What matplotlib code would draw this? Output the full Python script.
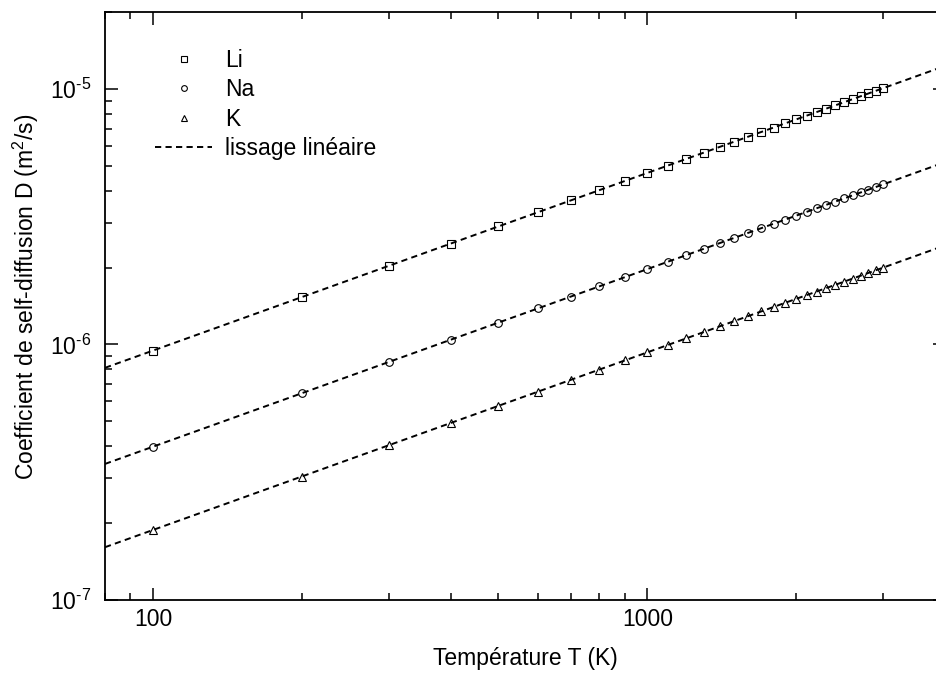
"""Self-diffusion coefficient of Li, Na and K versus temperature (log-log)."""

import numpy as np
import matplotlib

matplotlib.use("Agg")
import matplotlib.pyplot as plt
from matplotlib.ticker import (LogLocator, NullFormatter, FixedLocator,
                               FixedFormatter, FuncFormatter)

plt.rcParams["font.family"] = ["Liberation Sans", "DejaVu Sans"]
plt.rcParams["mathtext.fontset"] = "custom"
plt.rcParams["mathtext.rm"] = "Liberation Sans"
plt.rcParams["mathtext.it"] = "Liberation Sans:italic"

# Temperature (K): 100 to 3000 K in steps of 100
temperature = [100, 200, 300, 400, 500, 600, 700, 800, 900, 1000,
               1100, 1200, 1300, 1400, 1500, 1600, 1700, 1800, 1900, 2000,
               2100, 2200, 2300, 2400, 2500, 2600, 2700, 2800, 2900, 3000]

# D in units of 1e-6 m^2/s
d_li = [0.947, 1.53, 2.03, 2.48, 2.90, 3.29, 3.66, 4.02, 4.36, 4.69,
        5.01, 5.33, 5.63, 5.93, 6.22, 6.51, 6.78, 7.06, 7.33, 7.60,
        7.86, 8.12, 8.37, 8.62, 8.87, 9.12, 9.36, 9.60, 9.83, 10.07]
d_na = [0.398, 0.644, 0.854, 1.043, 1.218, 1.383, 1.539, 1.689, 1.833, 1.972,
        2.107, 2.238, 2.366, 2.492, 2.614, 2.734, 2.851, 2.967, 3.081, 3.192,
        3.303, 3.411, 3.519, 3.623, 3.728, 3.831, 3.933, 4.033, 4.133, 4.231]
d_k = [0.188, 0.304, 0.403, 0.493, 0.575, 0.653, 0.727, 0.798, 0.866, 0.932,
       0.995, 1.057, 1.118, 1.177, 1.235, 1.291, 1.347, 1.402, 1.455, 1.508,
       1.560, 1.611, 1.662, 1.712, 1.761, 1.810, 1.858, 1.905, 1.952, 1.999]

series = [("Li", d_li, "s"), ("Na", d_na, "o"), ("K", d_k, "^")]
fit_label = "lissage linéaire"

x_range = (80, 4000)
y_range = (1e-7, 2e-5)

FS = 16.5
DASH = (0, (3.2, 2.2))

W, H = 936, 675
fig = plt.figure(figsize=(W / 100, H / 100), dpi=100)
# the right border of the original chart lies just past the picture edge
ax = fig.add_axes([105 / W, 75 / H, 840 / W, 588 / H])

t = np.array(temperature, dtype=float)
t_line = np.geomspace(x_range[0], x_range[1], 200)

for name, values, marker in series:
    d = np.array(values) * 1e-6
    # linear fit in log-log space
    slope, intercept = np.polyfit(np.log10(t), np.log10(d), 1)
    ax.plot(t_line, 10 ** (intercept + slope * np.log10(t_line)),
            color="black", lw=1.4, ls=DASH, zorder=2)
    ax.plot(t, d, ls="none", marker=marker, ms=5.5, mfc="none",
            mec="black", mew=0.8, label=name, zorder=3)

# empty handle for the fit legend entry
ax.plot([], [], color="black", lw=1.4, ls=DASH, label=fit_label)

ax.set_xscale("log")
ax.set_yscale("log")
ax.set_xlim(*x_range)
ax.set_ylim(*y_range)


def pow10(v, pos):
    # hyphen instead of the long minus sign, like the original
    exp = int(round(np.log10(v)))
    sign = "\u2010" if exp < 0 else ""
    return r"$\mathregular{10^{%s%d}}$" % (sign, abs(exp))


ax.xaxis.set_major_locator(FixedLocator([100, 1000]))
ax.xaxis.set_major_formatter(FixedFormatter(["100", "1000"]))
ax.xaxis.set_minor_locator(LogLocator(base=10, subs=np.arange(2, 10)))
ax.xaxis.set_minor_formatter(NullFormatter())
ax.yaxis.set_major_locator(LogLocator(base=10, numticks=10))
ax.yaxis.set_major_formatter(FuncFormatter(pow10))
ax.yaxis.set_minor_locator(LogLocator(base=10, subs=np.arange(2, 10), numticks=10))
ax.yaxis.set_minor_formatter(NullFormatter())

ax.tick_params(which="both", direction="in", top=True, right=True,
               labelsize=FS, width=1.1, color="black")
ax.tick_params(which="major", length=9)
ax.tick_params(which="minor", length=5)
ax.tick_params(axis="x", pad=6)
ax.tick_params(axis="y", pad=10)
for sp in ax.spines.values():
    sp.set_linewidth(1.3)

fig.text(525 / W, 1 - 659 / H, "Température T (K)", ha="center", va="center",
         fontsize=FS)
fig.text(26 / W, 1 - 297 / H, "Coefficient de self-diffusion D (m$^2$/s)",
         ha="center", va="center", rotation=90, fontsize=FS)

ax.legend(loc="upper left", bbox_to_anchor=(155 / W, 1 - 49 / H),
          bbox_transform=fig.transFigure, frameon=False, fontsize=FS,
          borderpad=0, borderaxespad=0, handlelength=2.5, handletextpad=0.57,
          labelspacing=0.28, markerscale=0.75)

fig.savefig("out.png", dpi=100)
